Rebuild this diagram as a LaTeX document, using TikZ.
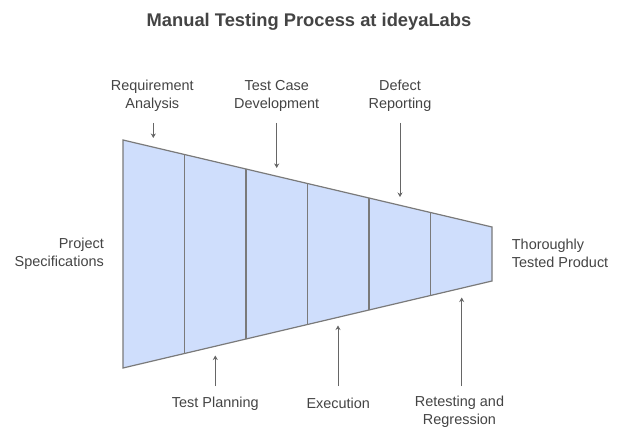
\documentclass[tikz,border=0pt]{standalone}
\usepackage{fontspec}
\setmainfont{Liberation Sans}
\usetikzlibrary{arrows.meta,calc}
\definecolor{funnelfill}{HTML}{CFDEFC}
\definecolor{funneldraw}{HTML}{7A7A7A}
\definecolor{txt}{HTML}{444444}
\definecolor{arr}{HTML}{666666}
\begin{document}
\begin{tikzpicture}[x=1bp,y=-1bp,
  lbl/.style={font=\fontsize{14.5}{17.8}\selectfont, text=txt, align=center, inner sep=0pt},
  ttl/.style={font=\fontsize{18.4}{21}\selectfont\bfseries, text=txt, inner sep=0pt},
  conn/.style={draw=arr, line width=0.9bp, -{Stealth[length=4.5bp,width=5bp]}},
  funnel/.style={draw=funneldraw, line width=1.2bp, fill=funnelfill},
  divider/.style={draw=funneldraw, line width=1.2bp}]
\useasboundingbox[fill=white] (0,0) rectangle (624,439);
\node[ttl] (title) at (309,21.5) {Manual Testing Process at ideyaLabs};
% funnel
\coordinate (TL) at (123,140);
\coordinate (TR) at (492,227);
\coordinate (BR) at (492,281);
\coordinate (BL) at (123,368);
\path[funnel] (TL) -- (TR) -- (BR) -- (BL) -- cycle;
\foreach \k in {1,...,5}{
  \draw[divider] ($(TL)!\k/6!(TR)$) -- ($(BL)!\k/6!(BR)$);
}
% labels
\node[lbl] (req) at (152.3,96) {Requirement\\Analysis};
\node[lbl] (tcd) at (276.7,96) {Test Case\\Development};
\node[lbl] (def) at (400,96) {Defect\\Reporting};
\node[lbl] (tp) at (215.3,403.5) {Test Planning};
\node[lbl] (exe) at (338.3,403.5) {Execution};
\node[lbl] (ret) at (459.5,412) {Retesting and\\Regression};
\node[lbl, align=right, anchor=east] (proj) at (104,254) {Project\\Specifications};
\node[lbl, align=left, anchor=west] (prod) at (511.7,253.5) {Thoroughly\\Tested Product};
% arrow coordinates
\coordinate (reqS) at (153.3,123);
\coordinate (reqE) at (153.3,138);
\coordinate (tcdS) at (276.7,123);
\coordinate (tcdE) at (276.7,168);
\coordinate (defS) at (400,123);
\coordinate (defE) at (400,197);
\coordinate (tpS) at (215.3,386);
\coordinate (tpE) at (215.3,355.5);
\coordinate (exeS) at (338,386);
\coordinate (exeE) at (338,325.5);
\coordinate (retS) at (461.7,386);
\coordinate (retE) at (461.7,297.5);
\draw[conn] (reqS) -- (reqE);
\draw[conn] (tcdS) -- (tcdE);
\draw[conn] (defS) -- (defE);
\draw[conn] (tpS) -- (tpE);
\draw[conn] (exeS) -- (exeE);
\draw[conn] (retS) -- (retE);
\end{tikzpicture}
\end{document}
